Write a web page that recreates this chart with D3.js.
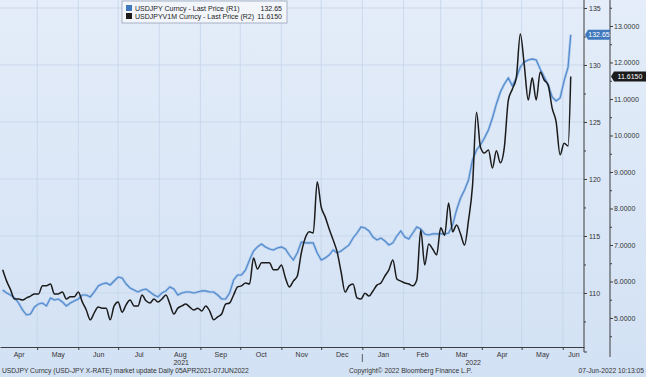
<!DOCTYPE html>
<html>
<head>
<meta charset="utf-8">
<script src="https://cdn.jsdelivr.net/npm/d3@7"></script>
<style>
  body { margin: 0; background: #dae6f6; }
  svg { display: block; }
  text { font-family: "Liberation Sans", "DejaVu Sans", sans-serif; }
</style>
</head>
<body>
<div id="chart"></div>
<script>
// sampled dates (every 3rd day) grouped by month
const sampleDays = [
    ["2021-04", [5, 8, 11, 14, 17, 20, 23, 26, 29]],
    ["2021-05", [2, 5, 8, 11, 14, 17, 20, 23, 26, 29]],
    ["2021-06", [1, 4, 7, 10, 13, 16, 19, 22, 25, 28]],
    ["2021-07", [1, 4, 7, 10, 13, 16, 19, 22, 25, 28, 31]],
    ["2021-08", [3, 6, 9, 12, 15, 18, 21, 24, 27, 30]],
    ["2021-09", [2, 5, 8, 11, 14, 17, 20, 23, 26, 29]],
    ["2021-10", [2, 5, 8, 11, 14, 17, 20, 23, 26, 29]],
    ["2021-11", [1, 4, 7, 10, 13, 16, 19, 22, 25, 28]],
    ["2021-12", [1, 4, 7, 10, 13, 16, 19, 22, 25, 28, 31]],
    ["2022-01", [3, 6, 9, 12, 15, 18, 21, 24, 27, 30]],
    ["2022-02", [2, 5, 8, 11, 14, 17, 20, 23, 26]],
    ["2022-03", [1, 4, 7, 10, 13, 16, 19, 22, 25, 28, 31]],
    ["2022-04", [3, 6, 9, 12, 15, 18, 21, 24, 27, 30]],
    ["2022-05", [3, 6, 9, 12, 15, 18, 21, 24, 27, 30]],
    ["2022-06", [2, 5, 7]]
];

// USDJPY Curncy - Last Price (R1)
const usdjpy = [
    110.26, 110.00, 109.82, 109.56, 109.12, 108.51, 108.07, 108.16, 108.77, 109.04,
    109.12, 108.86, 109.56, 109.39, 109.47, 109.21, 108.86, 109.12, 109.30, 109.47,
    109.82, 109.82, 109.65, 110.09, 110.61, 110.79, 110.88, 110.70, 111.05, 111.40,
    111.32, 110.79, 110.44, 110.26, 110.09, 110.26, 110.35, 110.09, 109.82, 109.65,
    110.00, 110.18, 110.53, 110.35, 109.82, 110.00, 110.09, 110.09, 110.00, 110.09,
    110.18, 110.18, 110.09, 110.09, 109.82, 109.47, 109.47, 110.00, 111.14, 111.58,
    111.58, 112.02, 112.89, 113.68, 114.04, 114.30, 114.04, 113.86, 113.77, 113.95,
    114.04, 113.86, 113.33, 112.89, 113.51, 114.47, 114.39, 114.39, 114.39, 113.51,
    112.89, 113.07, 113.33, 113.77, 113.51, 113.68, 113.95, 114.21, 114.82, 115.26,
    115.79, 115.70, 115.44, 114.91, 114.65, 114.82, 114.56, 114.21, 114.39, 115.00,
    115.44, 114.91, 114.74, 115.26, 115.79, 115.61, 115.18, 115.09, 115.18, 115.18,
    115.18, 115.18, 115.26, 115.96, 117.28, 118.33, 119.04, 119.91, 121.67, 122.54,
    122.98, 123.60, 124.30, 125.35, 126.58, 127.63, 128.33, 128.86, 128.16, 128.86,
    129.82, 130.26, 130.44, 130.53, 130.44, 129.65, 128.95, 128.25, 127.19, 126.84,
    127.11, 128.60, 129.82, 132.65
];

// USDJPYV1M Curncy - Last Price (R2)
const usdjpyVol = [
    6.32, 6.01, 5.77, 5.52, 5.52, 5.49, 5.55, 5.60, 5.66, 5.66,
    5.88, 5.88, 5.93, 5.66, 5.66, 5.71, 5.52, 5.58, 5.58, 5.71,
    5.44, 5.22, 4.95, 5.14, 5.30, 5.27, 5.27, 4.95, 5.33, 5.44,
    5.16, 5.36, 5.49, 5.33, 5.33, 5.63, 5.47, 5.41, 5.52, 5.44,
    5.52, 5.63, 5.38, 5.11, 5.27, 5.33, 5.38, 5.30, 5.22, 5.27,
    5.19, 5.33, 5.19, 4.95, 5.03, 5.11, 5.38, 5.41, 5.63, 5.85,
    5.88, 5.96, 5.93, 6.64, 6.34, 6.51, 6.51, 6.51, 6.32, 6.32,
    6.45, 6.10, 5.85, 6.01, 6.15, 6.78, 7.19, 7.36, 7.33, 8.73,
    8.04, 7.77, 7.44, 7.14, 6.81, 6.26, 5.71, 5.88, 5.93, 5.55,
    5.52, 5.68, 5.60, 5.74, 5.90, 5.96, 6.15, 6.32, 6.59, 6.07,
    6.01, 5.96, 5.93, 5.88, 6.04, 7.41, 6.45, 7.03, 6.89, 6.73,
    7.47, 7.27, 8.15, 7.36, 7.55, 7.30, 7.00, 7.68, 8.62, 10.64,
    9.68, 9.52, 9.60, 9.11, 9.58, 9.25, 9.68, 10.97, 11.27, 11.58,
    12.78, 11.93, 10.97, 11.58, 10.97, 11.74, 11.52, 11.38, 10.75, 10.37,
    9.47, 9.79, 9.71, 11.615
];

const r1Ticks = [110, 115, 120, 125, 130, 135];
const r1Minor = [107.5, 112.5, 117.5, 122.5, 127.5, 132.5];
const r2Ticks = [5, 6, 7, 8, 9, 10, 11, 12, 13];
const r2Minor = [4.5, 5.5, 6.5, 7.5, 8.5, 9.5, 10.5, 11.5, 12.5, 13.5];
const legendLabels = ["USDJPY Curncy - Last Price (R1)", "USDJPYV1M Curncy - Last Price (R2)"];
const lastLabels = ["132.65", "11.6150"];
const footerLeft = "USDJPY Curncy (USD-JPY X-RATE) market update  Daily 05APR2021-07JUN2022";
const footerMid = "Copyright\u00a9 2022 Bloomberg Finance L.P.";
const footerRight = "07-Jun-2022 10:13:05";

const width = 646, height = 377;
const plotRight = 584, plotBottom = 347, r2Axis = 610;
const blue = "#4f88cc", dark = "#1b1b1b", axisColor = "#3c3c3c", textColor = "#333";

const parse = d3.timeParse("%Y-%m-%d");
const dates = [];
sampleDays.forEach(([m, days]) => days.forEach(d => dates.push(parse(`${m}-${String(d).padStart(2, "0")}`))));

const spot = dates.map((d, i) => ({ x: d, y: usdjpy[i] }));
const vol = dates.map((d, i) => ({ x: d, y: usdjpyVol[i] }));

const domStart = new Date(2021, 3, 3), domEnd = new Date(2022, 5, 17);
const x = d3.scaleTime().domain([domStart, domEnd]).range([0, plotRight]);
const y1 = d3.scaleLinear().domain([105.26, 135.70]).range([plotBottom, 0]);
const y2 = d3.scaleLinear().domain([4.205, 13.712]).range([plotBottom, 0]);

const svg = d3.select("#chart")
    .append("svg")
    .attr("width", width)
    .attr("height", height);

// background
const grad = svg.append("defs").append("linearGradient")
    .attr("id", "bg").attr("x1", 0).attr("y1", 0).attr("x2", 0).attr("y2", 1);
grad.append("stop").attr("offset", "0%").attr("stop-color", "#e4edf9");
grad.append("stop").attr("offset", "100%").attr("stop-color", "#d2e1f4");
svg.append("rect").attr("width", width).attr("height", height).attr("fill", "url(#bg)");

// grid
const monthStarts = d3.timeMonth.range(d3.timeMonth.ceil(domStart), domEnd);
svg.append("g")
    .selectAll("line")
    .data(r1Ticks)
    .join("line")
    .attr("x1", 0).attr("x2", plotRight)
    .attr("y1", d => y1(d)).attr("y2", d => y1(d))
    .attr("stroke", "#c4d4ea").attr("stroke-width", 0.8);
svg.append("g")
    .selectAll("line")
    .data(monthStarts)
    .join("line")
    .attr("x1", d => x(d)).attr("x2", d => x(d))
    .attr("y1", 0).attr("y2", plotBottom)
    .attr("stroke", "#c4d4ea").attr("stroke-width", 0.8);

// lines
const spotLine = d3.line().x(d => x(d.x)).y(d => y1(d.y));
svg.append("path")
    .datum(spot)
    .attr("fill", "none")
    .attr("stroke", "#a9c6ea")
    .attr("stroke-width", 2.6)
    .attr("stroke-linejoin", "round")
    .attr("d", spotLine);
svg.append("path")
    .datum(spot)
    .attr("fill", "none")
    .attr("stroke", blue)
    .attr("stroke-width", 1.1)
    .attr("d", spotLine);
svg.append("path")
    .datum(vol)
    .attr("fill", "none")
    .attr("stroke", dark)
    .attr("stroke-width", 1.5)
    .attr("stroke-linejoin", "round")
    .attr("d", d3.line().curve(d3.curveMonotoneX).x(d => x(d.x)).y(d => y2(d.y)));

// x axis
const monthMids = monthStarts.concat([d3.timeMonth.floor(domStart)]).map(m => {
    const a = Math.max(m, domStart), b = Math.min(d3.timeMonth.offset(m, 1), domEnd);
    return new Date((a + b) / 2);
});
const xg = svg.append("g").attr("transform", `translate(0,${plotBottom})`);
xg.call(d3.axisBottom(x).tickValues(monthStarts).tickSize(3).tickSizeOuter(0).tickFormat(""));
xg.append("g").call(d3.axisBottom(x).tickValues(monthMids).tickSize(0).tickPadding(5).tickFormat(d3.timeFormat("%b")))
    .call(g => g.select(".domain").remove());
const years = [[domStart, new Date(2022, 0, 1)], [new Date(2022, 0, 1), domEnd]];
xg.append("g")
    .selectAll("text")
    .data(years)
    .join("text")
    .attr("x", d => (x(d[0]) + x(d[1])) / 2)
    .attr("y", 18)
    .attr("text-anchor", "middle")
    .attr("font-size", 7)
    .attr("fill", textColor)
    .text(d => d3.timeFormat("%Y")(d[0]));
xg.append("line")
    .attr("x1", x(new Date(2022, 0, 1))).attr("x2", x(new Date(2022, 0, 1)))
    .attr("y1", 7).attr("y2", 15)
    .attr("stroke", axisColor).attr("stroke-width", 0.8);

// right axes
const r1g = svg.append("g").attr("transform", `translate(${plotRight},0)`);
r1g.call(d3.axisRight(y1).tickValues(r1Ticks).tickSize(3).tickPadding(2).tickSizeOuter(0));
r1g.append("g").call(d3.axisRight(y1).tickValues(r1Minor).tickSize(2).tickFormat(""))
    .call(g => g.select(".domain").remove());
r1g.select(".domain").remove();
r1g.append("line").attr("y1", 0).attr("y2", plotBottom + 5).attr("stroke", axisColor);
r1g.append("line").attr("x1", 0).attr("x2", 3).attr("y1", plotBottom + 5).attr("y2", plotBottom + 5).attr("stroke", axisColor);

const r2g = svg.append("g").attr("transform", `translate(${r2Axis},0)`);
r2g.call(d3.axisRight(y2).tickValues(r2Ticks).tickSize(3).tickPadding(1).tickSizeOuter(0).tickFormat(d3.format(".4f")));
r2g.append("g").call(d3.axisRight(y2).tickValues(r2Minor).tickSize(2).tickFormat(""))
    .call(g => g.select(".domain").remove());
r2g.select(".domain").remove();
r2g.append("line").attr("y1", 0).attr("y2", plotBottom + 10).attr("stroke", axisColor);

svg.selectAll(".tick line").attr("stroke", axisColor);
xg.select(".domain").attr("stroke", axisColor);
svg.selectAll(".tick text").attr("font-size", 7).attr("fill", textColor)
    .attr("font-family", "Liberation Sans, DejaVu Sans, sans-serif");

// last value callouts
const b1 = y1(usdjpy[usdjpy.length - 1]);
svg.append("path")
    .attr("d", `M${plotRight + 1},${b1} L${plotRight + 4},${b1 - 5} L${plotRight + 26},${b1 - 5} L${plotRight + 26},${b1 + 5} L${plotRight + 4},${b1 + 5} Z`)
    .attr("fill", "#3f78bd");
svg.append("text").attr("x", plotRight + 15).attr("y", b1 + 2.5)
    .attr("text-anchor", "middle").attr("font-size", 7).attr("fill", "#fff").text(lastLabels[0]);
const b2 = y2(usdjpyVol[usdjpyVol.length - 1]);
svg.append("path")
    .attr("d", `M${r2Axis + 1},${b2} L${r2Axis + 4},${b2 - 5} L${width},${b2 - 5} L${width},${b2 + 5} L${r2Axis + 4},${b2 + 5} Z`)
    .attr("fill", dark);
svg.append("text").attr("x", r2Axis + 20).attr("y", b2 + 2.5)
    .attr("text-anchor", "middle").attr("font-size", 7).attr("fill", "#fff").text(lastLabels[1]);

// legend
const lg = svg.append("g").attr("transform", "translate(122,1)");
lg.append("rect").attr("width", 165).attr("height", 22)
    .attr("fill", "#f2f5fa").attr("stroke", "#9aa4b6").attr("stroke-width", 0.8);
const rows = lg.selectAll("g.row")
    .data(legendLabels)
    .join("g")
    .attr("class", "row")
    .attr("transform", (d, i) => `translate(0,${6 + i * 8})`);
rows.append("rect").attr("x", 4).attr("y", -2).attr("width", 6).attr("height", 6)
    .attr("fill", (d, i) => i === 0 ? "#3f78bd" : dark);
rows.append("text").attr("x", 13).attr("y", 3.5).attr("font-size", 7).attr("fill", "#222").text(d => d);
rows.append("text").attr("x", 160).attr("y", 3.5).attr("text-anchor", "end")
    .attr("font-size", 7).attr("fill", "#222").text((d, i) => lastLabels[i]);

// footer
const footer = svg.append("g").attr("font-size", 6.7).attr("fill", textColor);
footer.append("text").attr("x", 2).attr("y", 373).text(footerLeft);
footer.append("text").attr("x", 349).attr("y", 373).text(footerMid);
footer.append("text").attr("x", 644).attr("y", 373).attr("text-anchor", "end").text(footerRight);
</script>
</body>
</html>
